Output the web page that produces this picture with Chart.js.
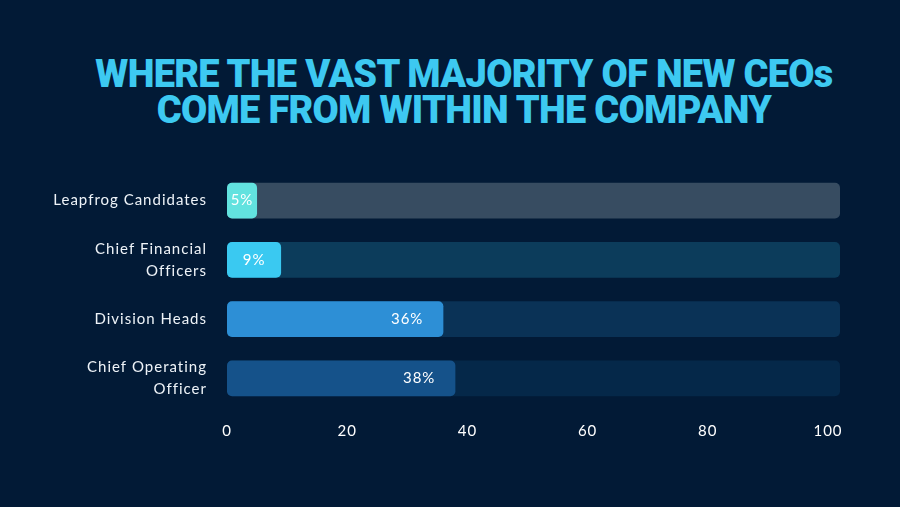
<!DOCTYPE html>
<html>
<head>
<meta charset="utf-8">
<script src="https://cdn.jsdelivr.net/npm/chart.js@4"></script>
<style>
    html, body { margin: 0; padding: 0; background: #021a36; }
    #wrap { position: relative; width: 900px; height: 507px; }
    #title {
        position: absolute; top: 56px; left: 14px; width: 900px; margin: 0;
        text-align: center; color: #3dc9f1;
        font-family: 'Roboto', sans-serif; font-weight: 900; font-size: 38px;
        line-height: 36px; letter-spacing: -0.7px;
    }
    canvas { position: absolute; left: 0; top: 0; }
</style>
</head>
<body>
<div id="wrap">
    <h1 id="title">WHERE THE VAST MAJORITY OF NEW CEOs<br>COME FROM WITHIN THE COMPANY</h1>
    <canvas id="ceoChart" width="900" height="507"></canvas>
</div>
<script>
// values
const categories = ['Leapfrog Candidates', ['Chief Financial', 'Officers'], 'Division Heads', ['Chief Operating', 'Officer']];
const shares = [5, 9, 36, 38];
const tickValues = [0, 20, 40, 60, 80, 100];

const axisMax = 102;
const barColors = ['#62e2df', '#3ac9f1', '#2d8fd6', '#15528a'];
const trackColors = ['#374c61', '#0c3c5b', '#0a3256', '#052849'];

// percentage text inside each bar
const valueLabels = {
    id: 'valueLabels',
    afterDatasetsDraw(chart) {
        const ctx = chart.ctx;
        const meta = chart.getDatasetMeta(0);
        ctx.save();
        ctx.font = '15px Lato, sans-serif';
        ctx.fillStyle = '#ffffff';
        ctx.textAlign = 'center';
        ctx.textBaseline = 'middle';
        meta.data.forEach((bar, i) => {
            const txt = shares[i] + '%';
            const w = ctx.measureText(txt).width;
            const mid = (bar.base + bar.x) / 2;
            const x = Math.max(mid, bar.x - 20 - w / 2);
            ctx.fillText(txt, x, bar.y);
        });
        ctx.restore();
    }
};

// spaced-out lettering like the original
const spacing = {
    id: 'spacing',
    beforeDraw(chart) { chart.ctx.letterSpacing = '1px'; },
    afterDraw(chart) { chart.ctx.letterSpacing = '0px'; }
};

const ctx = document.getElementById('ceoChart').getContext('2d');
new Chart(ctx, {
    type: 'bar',
    data: {
        labels: categories,
        datasets: [
            {
                label: 'Share',
                data: shares,
                backgroundColor: barColors,
                borderRadius: 5,
                borderSkipped: false,
                grouped: false,
                order: 0,
                barPercentage: 1,
                categoryPercentage: 0.6
            },
            {
                label: 'Track',
                data: categories.map(() => axisMax),
                backgroundColor: trackColors,
                borderRadius: 5,
                borderSkipped: false,
                grouped: false,
                order: 1,
                barPercentage: 1,
                categoryPercentage: 0.6
            }
        ]
    },
    options: {
        indexAxis: 'y',
        responsive: false,
        animation: false,
        layout: { padding: { top: 171, left: 20, right: 60, bottom: 59 } },
        plugins: {
            legend: { display: false },
            tooltip: { enabled: false }
        },
        scales: {
            x: {
                min: 0,
                max: axisMax,
                grid: { display: false, drawTicks: false },
                border: { display: false },
                afterBuildTicks: (scale) => { scale.ticks = tickValues.map(v => ({ value: v })); },
                afterFit: (scale) => { scale.height = 40; },
                ticks: {
                    color: '#ffffff',
                    font: { family: 'Lato', size: 15 },
                    padding: 14,
                    maxRotation: 0
                }
            },
            y: {
                grid: { display: false, drawTicks: false },
                border: { display: false },
                afterFit: (scale) => { scale.width = 207; },
                ticks: {
                    color: '#eef3f8',
                    font: { family: 'Lato', size: 15, lineHeight: 1.45 },
                    padding: 20
                }
            }
        }
    },
    plugins: [valueLabels, spacing]
});
</script>
</body>
</html>
